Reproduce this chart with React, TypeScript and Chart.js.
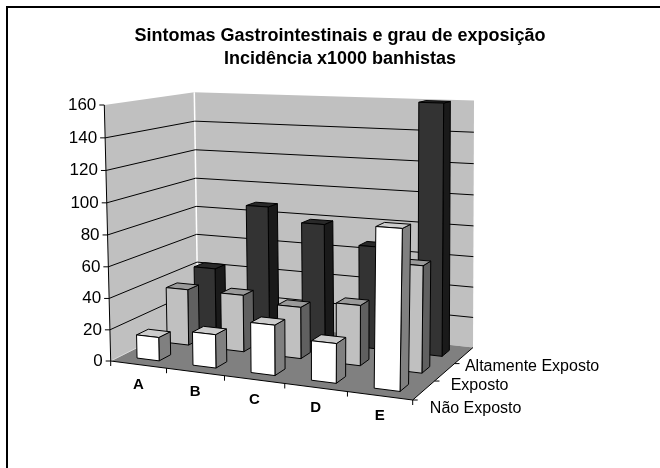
import React, { useEffect, useRef } from "react";
import { Chart, registerables } from "chart.js";

Chart.register(...registerables);

const categories = ["A", "B", "C", "D", "E"];
const seriesNames = ["Não Exposto", "Exposto", "Altamente Exposto"];
const naoExposto = [15, 21, 31, 24, 95];
const exposto = [37, 37, 33, 38, 66];
const altamenteExposto = [43, 88, 79, 67, 160];
const seriesValues = [naoExposto, exposto, altamenteExposto];
const yTicks = { min: 0, max: 160, step: 20 };

const frontFill = ["#ffffff", "#c0c0c0", "#333333"];
const topFill = ["#cccccc", "#9a9a9a", "#292929"];
const sideFill = ["#808080", "#606060", "#1a1a1a"];
const depthLabelDx = [6, 6, 1];
const depthLabelDy = [18, 13, 11];

type Pt = [number, number];

// plane homography from the unit square to a quad (front-left, front-right, back-right, back-left)
function planeMap(fl: Pt, fr: Pt, br: Pt, bl: Pt) {
  const dx1 = fr[0] - br[0], dx2 = bl[0] - br[0], sx = fl[0] - fr[0] + br[0] - bl[0];
  const dy1 = fr[1] - br[1], dy2 = bl[1] - br[1], sy = fl[1] - fr[1] + br[1] - bl[1];
  const den = dx1 * dy2 - dx2 * dy1;
  const g = (sx * dy2 - dx2 * sy) / den;
  const h = (dx1 * sy - sx * dy1) / den;
  const a = fr[0] - fl[0] + g * fr[0];
  const b = bl[0] - fl[0] + h * bl[0];
  const d = fr[1] - fl[1] + g * fr[1];
  const e = bl[1] - fl[1] + h * bl[1];
  return (X: number, Z: number): Pt => {
    const w = g * X + h * Z + 1;
    return [(a * X + b * Z + fl[0]) / w, (d * X + e * Z + fl[1]) / w];
  };
}

// camera calibration: the floor and the top plane of the 3-D box on screen
const floorPlane = planeMap([110.7, 361], [412.7, 400], [473, 347.5], [198, 317]);
const topPlane = planeMap([104.3, 105], [418, 116], [474, 100.5], [194.3, 92.3]);
const VERT_K = 0.97;

function project(X: number, Y: number, Z: number): Pt {
  const a = floorPlane(X, Z), b = topPlane(X, Z);
  const t = (Y * VERT_K) / (1 - Y + Y * VERT_K);
  return [a[0] + (b[0] - a[0]) * t, a[1] + (b[1] - a[1]) * t];
}

const BAR_W = 0.4;
const BAR_D = 0.38;

function quad(ctx: CanvasRenderingContext2D, pts: Pt[], fill: string, stroke = "#000000") {
  ctx.beginPath();
  pts.forEach((p, n) => (n ? ctx.lineTo(p[0], p[1]) : ctx.moveTo(p[0], p[1])));
  ctx.closePath();
  ctx.fillStyle = fill;
  ctx.fill();
  if (stroke) {
    ctx.strokeStyle = stroke;
    ctx.lineWidth = 1;
    ctx.stroke();
  }
}

function seg(ctx: CanvasRenderingContext2D, a: Pt, b: Pt, color: string, lw = 1) {
  ctx.beginPath();
  ctx.moveTo(a[0], a[1]);
  ctx.lineTo(b[0], b[1]);
  ctx.strokeStyle = color;
  ctx.lineWidth = lw;
  ctx.stroke();
}

const scene3d = {
  id: "scene3d",
  beforeDraw(chart: any) {
    const ctx = chart.ctx as CanvasRenderingContext2D;
    ctx.save();
    ctx.fillStyle = "#000000";
    ctx.fillRect(6, 6, chart.width - 6, 2);
    ctx.fillRect(6, 6, 2, chart.height - 6);
    ctx.restore();
  },
  beforeDatasetsDraw(chart: any) {
    const ctx = chart.ctx as CanvasRenderingContext2D;
    const xs = chart.scales.x, ys = chart.scales.y, zs = chart.scales.depth;
    const dec = (s: any, v: number) => s.getDecimalForPixel(s.getPixelForValue(v));
    const Y = (v: number) => dec(ys, v);
    ctx.save();

    // walls and floor
    quad(ctx, [project(0, 0, 0), project(0, 1, 0), project(0, 1, 1), project(0, 0, 1)], "#c0c0c0", "");
    quad(ctx, [project(0, 0, 1), project(0, 1, 1), project(1, 1, 1), project(1, 0, 1)], "#c0c0c0", "");
    quad(ctx, [project(0, 0, 0), project(1, 0, 0), project(1, 0, 1), project(0, 0, 1)], "#808080", "");
    seg(ctx, project(0, 0, 1), project(0, 1, 1), "#ffffff", 1.5);
    seg(ctx, project(0, 0, 0), project(0, 0, 1), "#d8d8d8", 1);

    // gridlines
    const ticks = ys.ticks as { value: number }[];
    ticks.forEach((t) => {
      if (t.value === 0 || t.value === ys.max) return;
      const v = Y(t.value);
      seg(ctx, project(0, v, 0), project(0, v, 1), "#000000");
      seg(ctx, project(0, v, 1), project(1, v, 1), "#000000");
    });

    // axes lines
    seg(ctx, project(0, 0, 0), project(0, 1, 0), "#000000");
    seg(ctx, project(0, 0, 0), project(1, 0, 0), "#000000");
    seg(ctx, project(1, 0, 0), project(1, 0, 1), "#000000");

    // bars, back row first
    const nC = categories.length, nS = seriesNames.length;
    for (let s = nS - 1; s >= 0; s--) {
      const ds = chart.data.datasets[s];
      const zc = dec(zs, s);
      const z0 = zc - BAR_D / nS / 2, z1 = zc + BAR_D / nS / 2;
      for (let c = 0; c < nC; c++) {
        const xc = dec(xs, c);
        const x0 = xc - BAR_W / nC / 2, x1 = xc + BAR_W / nC / 2;
        const v = Y(ds.data[c]);
        quad(ctx, [project(x1, 0, z0), project(x1, 0, z1), project(x1, v, z1), project(x1, v, z0)], sideFill[s]);
        quad(ctx, [project(x0, v, z0), project(x1, v, z0), project(x1, v, z1), project(x0, v, z1)], topFill[s]);
        quad(ctx, [project(x0, 0, z0), project(x1, 0, z0), project(x1, v, z0), project(x0, v, z0)], frontFill[s]);
      }
    }

    // axis ticks and labels
    ctx.fillStyle = "#000000";
    ctx.textBaseline = "middle";
    ctx.font = "17px 'Liberation Sans'";
    ctx.textAlign = "right";
    ticks.forEach((t) => {
      const p = project(0, Y(t.value), 0);
      seg(ctx, p, [p[0] - 5, p[1]], "#000000");
      ctx.fillStyle = "#000000";
      ctx.fillText(String(t.value), p[0] - 8, p[1]);
    });
    ctx.font = "bold 15px 'Liberation Sans'";
    ctx.textAlign = "center";
    categories.forEach((name, c) => {
      const p = project(dec(xs, c), 0, 0);
      ctx.fillStyle = "#000000";
      ctx.fillText(name, p[0], p[1] + 20);
    });
    for (let c = 0; c <= nC; c++) {
      const p = project(c / nC, 0, 0);
      seg(ctx, p, [p[0], p[1] + 5], "#000000");
    }
    for (let s = 0; s < nS; s++) {
      const p = project(1, 0, s / nS);
      seg(ctx, p, [p[0] + 5, p[1]], "#000000");
    }
    ctx.font = "16px 'Liberation Sans'";
    ctx.textAlign = "left";
    seriesNames.forEach((name, s) => {
      const p = project(1, 0, dec(zs, s));
      ctx.fillStyle = "#000000";
      ctx.fillText(name, p[0] + depthLabelDx[s], p[1] + depthLabelDy[s]);
    });
    ctx.restore();
    return false;
  },
};

export default function App() {
  const ref = useRef<HTMLCanvasElement>(null);
  useEffect(() => {
    const chart = new Chart(ref.current as HTMLCanvasElement, {
      type: "bar",
      data: {
        labels: categories,
        datasets: seriesNames.map((label, s) => ({
          label,
          data: seriesValues[s],
          backgroundColor: frontFill[s],
          borderColor: "#000000",
          borderWidth: 1,
        })),
      },
      options: {
        animation: false,
        responsive: false,
        layout: { padding: { left: 20, top: 25 } },
        plugins: {
          legend: { display: false },
          tooltip: { enabled: false },
          title: {
            display: true,
            text: ["Sintomas Gastrointestinais e grau de exposição", "Incidência x1000 banhistas"],
            color: "#000000",
            font: { family: "'Liberation Sans'", size: 18, weight: "bold", lineHeight: 1.25 },
            padding: 0,
          },
        },
        scales: {
          x: { type: "category", display: false, offset: true },
          y: { type: "linear", display: false, min: yTicks.min, max: yTicks.max, ticks: { stepSize: yTicks.step } },
          depth: { type: "category", axis: "x", position: "bottom", display: false, offset: true, labels: seriesNames },
        },
      },
      plugins: [scene3d],
    } as any);
    return () => chart.destroy();
  }, []);
  return (
    <div style={{ position: "absolute", left: 0, top: 0, width: 660, height: 468 }}>
      <canvas ref={ref} width={660} height={468} style={{ display: "block" }} />
    </div>
  );
}
